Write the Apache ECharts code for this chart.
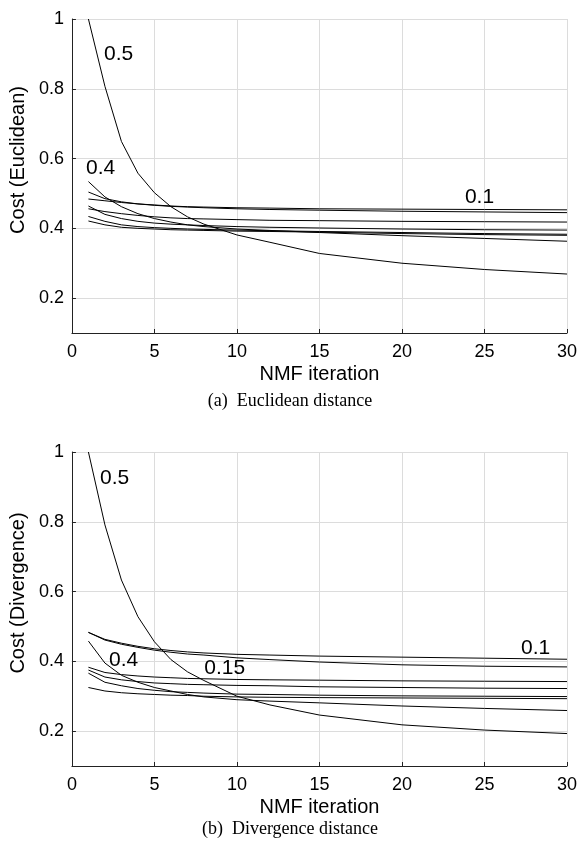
<!DOCTYPE html>
<html>
<head>
<meta charset="utf-8">
<script src="https://cdn.jsdelivr.net/npm/echarts@6/dist/echarts.min.js"></script>
<style>
  html, body { margin: 0; padding: 0; background: #fff; }
  #main { width: 580px; height: 850px; }
</style>
</head>
<body>
<div id="main"></div>
<script>
const iters = [1, 2, 3, 4, 5, 6, 7, 8, 10, 12, 15, 20, 25, 30];
const yTicks = [0.2, 0.4, 0.6, 0.8, 1];

// (a) Euclidean cost curves
const euc05 = [1.0, 0.807, 0.649, 0.558, 0.502, 0.462, 0.433, 0.412, 0.381, 0.360, 0.328, 0.300, 0.282, 0.269];
const euc04 = [0.534, 0.490, 0.462, 0.442, 0.428, 0.418, 0.410, 0.405, 0.398, 0.394, 0.388, 0.379, 0.371, 0.363];
const euc01 = [0.484, 0.479, 0.474, 0.470, 0.467, 0.464, 0.462, 0.461, 0.459, 0.458, 0.456, 0.455, 0.454, 0.453];
const eucB = [0.504, 0.485, 0.476, 0.470, 0.466, 0.463, 0.461, 0.459, 0.456, 0.454, 0.452, 0.449, 0.447, 0.445];
const eucC = [0.456, 0.448, 0.442, 0.437, 0.433, 0.430, 0.428, 0.427, 0.425, 0.423, 0.422, 0.420, 0.419, 0.418];
const eucD = [0.464, 0.440, 0.428, 0.420, 0.415, 0.412, 0.410, 0.408, 0.405, 0.403, 0.401, 0.398, 0.396, 0.395];
const eucE = [0.434, 0.420, 0.410, 0.405, 0.402, 0.400, 0.398, 0.397, 0.395, 0.393, 0.391, 0.388, 0.385, 0.383];
const eucF = [0.421, 0.410, 0.403, 0.400, 0.398, 0.396, 0.395, 0.394, 0.392, 0.391, 0.389, 0.385, 0.382, 0.380];

// (b) Divergence cost curves
const div05 = [1.0, 0.791, 0.633, 0.528, 0.456, 0.405, 0.370, 0.345, 0.300, 0.275, 0.246, 0.218, 0.203, 0.193];
const div01 = [0.483, 0.463, 0.452, 0.443, 0.436, 0.431, 0.427, 0.424, 0.420, 0.418, 0.415, 0.412, 0.409, 0.406];
const divB = [0.483, 0.461, 0.449, 0.440, 0.432, 0.426, 0.421, 0.418, 0.410, 0.405, 0.398, 0.390, 0.386, 0.384];
const div04 = [0.458, 0.395, 0.360, 0.340, 0.325, 0.315, 0.305, 0.298, 0.290, 0.286, 0.281, 0.272, 0.265, 0.259];
const div015 = [0.383, 0.368, 0.362, 0.358, 0.355, 0.353, 0.351, 0.350, 0.348, 0.347, 0.346, 0.344, 0.343, 0.342];
const divC = [0.375, 0.355, 0.347, 0.342, 0.338, 0.336, 0.334, 0.333, 0.331, 0.330, 0.327, 0.325, 0.323, 0.322];
const divD = [0.366, 0.340, 0.330, 0.322, 0.317, 0.313, 0.311, 0.309, 0.306, 0.305, 0.303, 0.301, 0.300, 0.299];
const divE = [0.325, 0.315, 0.310, 0.307, 0.305, 0.303, 0.302, 0.300, 0.298, 0.297, 0.296, 0.295, 0.294, 0.293];

// curve labels [iteration, cost, text]
const eucLabels = [[2.83, 0.90, '0.5'], [1.74, 0.573, '0.4'], [24.7, 0.49, '0.1']];
const divLabels = [[2.59, 0.925, '0.5'], [3.13, 0.404, '0.4'], [9.26, 0.381, '0.15'], [28.1, 0.438, '0.1']];

const eucCurves = [euc05, euc04, euc01, eucB, eucC, eucD, eucE, eucF];
const divCurves = [div05, div01, divB, div04, div015, divC, divD, divE];

const font = 'Liberation Sans, Arial, sans-serif';
const serif = 'Liberation Serif, Times New Roman, serif';

function pairs(vals) {
  return iters.map((x, i) => [x, vals[i]]);
}

function lineSeries(vals, idx) {
  return {
    type: 'line',
    xAxisIndex: idx, yAxisIndex: idx,
    data: pairs(vals),
    symbol: 'none',
    lineStyle: { color: '#000', width: 1 },
    silent: true
  };
}

function labelSeries(labels, idx) {
  return {
    type: 'scatter',
    xAxisIndex: idx, yAxisIndex: idx,
    data: labels,
    symbolSize: 0,
    itemStyle: { color: '#000' },
    label: {
      show: true, position: 'inside',
      formatter: p => p.value[2],
      color: '#000', opacity: 1, fontSize: 21, fontFamily: font,
      textBorderWidth: 0
    },
    silent: true
  };
}

function xAxis(idx) {
  return {
    type: 'value', gridIndex: idx, min: 0, max: 30, interval: 5,
    name: 'NMF iteration', nameLocation: 'middle', nameGap: 31,
    nameTextStyle: { fontSize: 20, color: '#000', fontFamily: font },
    axisLine: { lineStyle: { color: '#222', width: 1 } },
    axisTick: { inside: true, length: 4, lineStyle: { color: '#222' } },
    axisLabel: { fontSize: 18, color: '#000', margin: 10, fontFamily: font },
    splitLine: { lineStyle: { color: '#dcdcdc', width: 1 } }
  };
}

function yAxis(idx, name) {
  return {
    type: 'value', gridIndex: idx, min: 0.1, max: 1,
    name: name, nameLocation: 'middle', nameGap: 42,
    nameTextStyle: { fontSize: 20, color: '#000', fontFamily: font, padding: [0, 0, 0, 32] },
    axisLine: { show: true, lineStyle: { color: '#222', width: 1 } },
    axisTick: { show: true, inside: true, length: 4, lineStyle: { color: '#222' }, customValues: yTicks },
    axisLabel: { fontSize: 18, color: '#000', margin: 8, fontFamily: font, customValues: yTicks },
    splitLine: { lineStyle: { color: '#dcdcdc', width: 1 } }
  };
}

const chart = echarts.init(document.getElementById('main'), null, { renderer: 'canvas' });

const series = [];
eucCurves.forEach(c => series.push(lineSeries(c, 0)));
divCurves.forEach(c => series.push(lineSeries(c, 1)));
series.push(labelSeries(eucLabels, 0));
series.push(labelSeries(divLabels, 1));

chart.setOption({
  animation: false,
  backgroundColor: '#fff',
  textStyle: { fontFamily: font },
  title: [
    { text: '(a)  Euclidean distance', left: 'center', top: 387,
      textStyle: { fontFamily: serif, fontWeight: 'normal', fontSize: 18, color: '#000' } },
    { text: '(b)  Divergence distance', left: 'center', top: 815,
      textStyle: { fontFamily: serif, fontWeight: 'normal', fontSize: 18, color: '#000' } }
  ],
  grid: [
    { left: 70, right: 11, top: 19, height: 314 },
    { left: 70, right: 11, top: 452, height: 314 }
  ],
  xAxis: [xAxis(0), xAxis(1)],
  yAxis: [yAxis(0, 'Cost (Euclidean)'), yAxis(1, 'Cost (Divergence)')],
  series: series
});
</script>
</body>
</html>
